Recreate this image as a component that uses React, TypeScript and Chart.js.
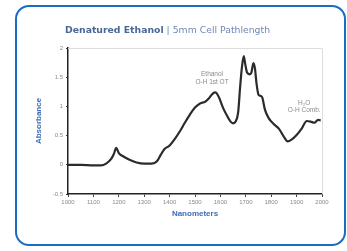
import React, { useEffect, useRef } from "react";
import { Chart, registerables } from "chart.js";

Chart.register(...registerables);

const nanometers = [1000, 1050, 1100, 1130, 1150, 1170, 1180, 1190, 1200, 1215, 1240, 1270, 1300, 1330, 1350, 1365, 1380, 1400, 1420, 1440, 1460, 1480, 1500, 1520, 1540, 1555, 1570, 1580, 1595, 1610, 1625, 1640, 1650, 1660, 1670, 1678, 1685, 1692, 1698, 1705, 1715, 1722, 1730, 1736, 1742, 1750, 1758, 1765, 1775, 1790, 1810, 1830, 1850, 1865, 1880, 1900, 1920, 1940, 1955, 1970, 1985, 1995];
const absorbance = [0.0, 0.0, -0.01, -0.01, 0.02, 0.1, 0.18, 0.29, 0.2, 0.15, 0.09, 0.04, 0.02, 0.02, 0.06, 0.17, 0.27, 0.33, 0.44, 0.57, 0.72, 0.86, 0.98, 1.05, 1.08, 1.14, 1.22, 1.24, 1.15, 0.98, 0.85, 0.74, 0.71, 0.74, 0.9, 1.35, 1.68, 1.86, 1.72, 1.58, 1.55, 1.58, 1.74, 1.65, 1.4, 1.2, 1.18, 1.15, 0.95, 0.8, 0.7, 0.62, 0.48, 0.4, 0.43, 0.51, 0.62, 0.75, 0.74, 0.72, 0.77, 0.76];

const titleBold = "Denatured Ethanol";
const titleRest = " | 5mm Cell Pathlength";
const xAxisTitle = "Nanometers";
const yAxisTitle = "Absorbance";

const annotations = [
  { x: 1567, y: 1.55, lines: ["Ethanol", "O-H 1st OT"] },
  { x: 1930, y: 1.06, lines: ["H\u2082O", "O-H Comb."] },
];

const FONT = "Arial, 'Liberation Sans', sans-serif";
const TITLE_FONT = "'DejaVu Sans', Verdana, sans-serif";

export default function App() {
  const ref = useRef<HTMLCanvasElement | null>(null);

  useEffect(() => {
    if (!ref.current) return;
    const overlay = {
      id: "overlay",
      beforeDatasetsDraw(chart: any) {
        const { ctx, chartArea } = chart;
        ctx.save();
        ctx.strokeStyle = "#dddddd";
        ctx.lineWidth = 1;
        ctx.beginPath();
        ctx.moveTo(chartArea.left, chartArea.top + 0.5);
        ctx.lineTo(chartArea.right + 0.5, chartArea.top + 0.5);
        ctx.lineTo(chartArea.right + 0.5, chartArea.bottom);
        ctx.stroke();
        ctx.restore();
      },
      afterDraw(chart: any) {
        const { ctx, chartArea, scales } = chart;
        ctx.save();
        ctx.textBaseline = "middle";
        ctx.textAlign = "left";
        ctx.font = `bold 9.3px ${TITLE_FONT}`;
        const tx = chartArea.left - 3;
        const ty = 31;
        ctx.fillStyle = "#4a6796";
        ctx.fillText(titleBold, tx, ty);
        const w = ctx.measureText(titleBold).width;
        ctx.font = `9.3px ${TITLE_FONT}`;
        ctx.fillStyle = "#6f88b4";
        ctx.fillText(titleRest, tx + w, ty);
        ctx.textAlign = "center";
        ctx.font = `6.5px ${FONT}`;
        ctx.fillStyle = "#8a8a8a";
        for (const a of annotations) {
          const px = scales.x.getPixelForValue(a.x);
          const py = scales.y.getPixelForValue(a.y);
          a.lines.forEach((l, i) => ctx.fillText(l, px, py + i * 7.5));
        }
        ctx.restore();
      },
    };
    const chart = new Chart(ref.current, {
      type: "line",
      data: {
        labels: nanometers,
        datasets: [
          {
            data: nanometers.map((n, i) => ({ x: n, y: absorbance[i] })),
            borderColor: "#2b2b2b",
            borderWidth: 2.2,
            pointRadius: 0,
            cubicInterpolationMode: "monotone",
            fill: false,
          },
        ],
      },
      options: {
        animation: false,
        responsive: false,
        maintainAspectRatio: false,
        layout: { padding: { left: 30, right: 25, top: 48, bottom: 30 } },
        plugins: { legend: { display: false }, tooltip: { enabled: false }, title: { display: false } },
        scales: {
          x: {
            type: "linear",
            min: 1000,
            max: 2000,
            afterFit: (s: any) => { s.height = 27; },
            border: { color: "#222", width: 1.5 },
            grid: { drawOnChartArea: false, tickLength: 3, color: "#444" },
            ticks: { stepSize: 100, color: "#8a8a8a", font: { size: 6, family: FONT }, padding: 2, maxRotation: 0, autoSkip: false, callback: (v: any) => String(v) },
            title: { display: true, text: xAxisTitle, color: "#3d6cb8", font: { size: 8, weight: "bold", family: FONT }, padding: { top: 2, bottom: 2 } },
          },
          y: {
            min: -0.5,
            max: 2,
            afterFit: (s: any) => { s.width = 38; },
            border: { color: "#222", width: 1.5 },
            grid: { drawOnChartArea: false, tickLength: 2, color: "#444" },
            ticks: { stepSize: 0.5, color: "#8a8a8a", font: { size: 6, family: FONT }, padding: 3, callback: (v: any) => String(v) },
            title: { display: true, text: yAxisTitle, color: "#3d6cb8", font: { size: 8, weight: "bold", family: FONT }, padding: { top: 4, bottom: 4 } },
          },
        },
      },
      plugins: [overlay],
    } as any);
    return () => chart.destroy();
  }, []);

  return (
    <div style={{ position: "fixed", left: 0, top: 0, width: 347, height: 251, background: "#fff" }}>
      <div
        style={{
          position: "absolute",
          left: 15,
          top: 5,
          width: 331,
          height: 241,
          border: "2.5px solid #1a6cc4",
          borderRadius: 14,
          boxSizing: "border-box",
        }}
      />
      <canvas ref={ref} width={347} height={251} style={{ position: "absolute", left: 0, top: 0 }} />
    </div>
  );
}
